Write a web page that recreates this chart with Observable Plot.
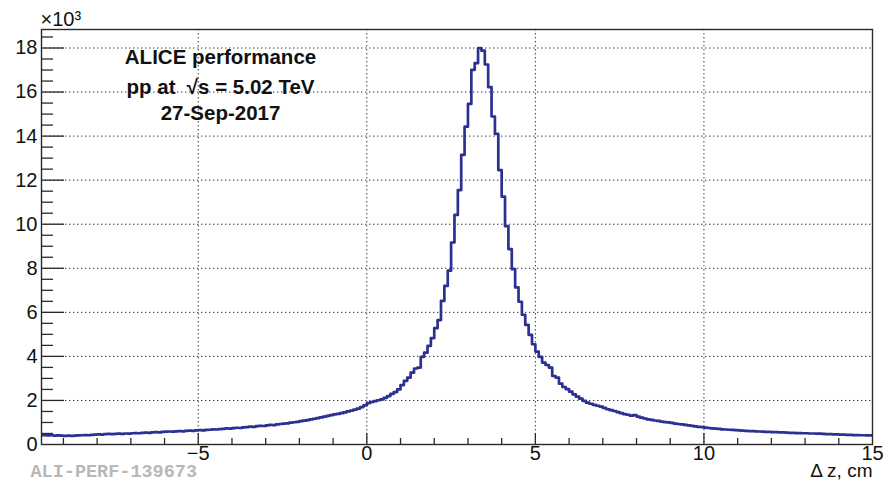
<!DOCTYPE html>
<html><head><meta charset="utf-8">
<script src="https://cdn.jsdelivr.net/npm/d3@7"></script>
<script src="https://cdn.jsdelivr.net/npm/@observablehq/plot@0.6"></script>
<style>html,body{margin:0;padding:0;background:#fff;} svg{display:block}</style>
</head><body><div id="chart"></div>
<script>
// Histogram: bins of 0.1 cm starting at -9.7 cm; counts in units of 10^3
const firstEdge = -9.7;
const binWidth = 0.1;
const countsK = [
  0.42,0.42,0.41,0.42,0.40,0.41,0.40,0.39,0.40,0.39,
  0.40,0.41,0.42,0.43,0.42,0.44,0.45,0.46,0.45,0.47,
  0.48,0.47,0.48,0.49,0.48,0.50,0.49,0.51,0.52,0.51,
  0.53,0.54,0.53,0.55,0.56,0.55,0.57,0.58,0.59,0.58,
  0.60,0.61,0.60,0.62,0.63,0.62,0.64,0.65,0.64,0.66,
  0.67,0.69,0.68,0.70,0.71,0.73,0.72,0.74,0.76,0.75,
  0.78,0.79,0.81,0.80,0.83,0.85,0.84,0.87,0.89,0.88,
  0.91,0.93,0.95,0.96,0.99,1.01,1.03,1.06,1.08,1.11,
  1.14,1.17,1.20,1.23,1.27,1.30,1.33,1.37,1.39,1.42,
  1.46,1.50,1.54,1.58,1.63,1.70,1.78,1.88,1.93,1.97,
  2.01,2.05,2.12,2.20,2.30,2.38,2.50,2.70,2.89,3.04,
  3.26,3.45,3.49,3.98,4.17,4.48,4.83,5.28,5.65,6.52,
  7.20,7.89,9.17,10.42,11.55,13.15,14.43,15.46,17.01,17.31,
  18.00,17.88,17.25,16.22,14.89,14.10,12.46,11.25,9.91,8.87,
  7.96,7.13,6.48,5.89,5.43,4.98,4.55,4.22,3.98,3.72,
  3.61,3.49,3.11,3.04,2.76,2.61,2.51,2.40,2.28,2.17,
  2.08,1.98,1.90,1.85,1.80,1.76,1.72,1.66,1.60,1.56,
  1.52,1.47,1.42,1.38,1.35,1.31,1.33,1.27,1.22,1.18,
  1.14,1.12,1.09,1.07,1.04,1.02,1.00,0.98,0.95,0.93,
  0.91,0.89,0.87,0.85,0.82,0.80,0.79,0.77,0.75,0.73,
  0.72,0.71,0.69,0.68,0.67,0.66,0.65,0.64,0.63,0.62,
  0.61,0.61,0.60,0.59,0.58,0.57,0.57,0.56,0.56,0.55,
  0.55,0.54,0.53,0.53,0.52,0.52,0.51,0.51,0.50,0.50,
  0.49,0.49,0.48,0.47,0.47,0.46,0.46,0.45,0.45,0.44,
  0.44,0.43,0.43,0.42,0.42,0.41,0.41
];
const xMajorTicks = [-5, 0, 5, 10, 15];
const xTickLabels = ["\u22125", "0", "5", "10", "15"];
const xMinorTicks = [-9,-8,-7,-6,-4,-3,-2,-1,1,2,3,4,6,7,8,9,11,12,13,14];
const yMajorTicks = [0, 2, 4, 6, 8, 10, 12, 14, 16, 18];
const yMinorTicks = [0.5,1,1.5,2.5,3,3.5,4.5,5,5.5,6.5,7,7.5,8.5,9,9.5,10.5,11,11.5,12.5,13,13.5,14.5,15,15.5,16.5,17,17.5,18.5];
const infoLines = ["ALICE performance", "pp at  \u221As = 5.02 TeV", "27-Sep-2017"];
const xTitle = "\u0394 z, cm";
const yMultiplier = "\u00D710\u00B3";
const figureId = "ALI-PERF-139673";

const W = 888, H = 482;
const mL = 41, mR = 16, mT = 29, mB = 38;
const frameW = W - mL - mR, frameH = H - mT - mB;

const points = countsK.map((c, i) => ({x: Math.round((firstEdge + i * binWidth) * 10) / 10, y: c}));
points.push({x: Math.round((firstEdge + countsK.length * binWidth) * 10) / 10, y: countsK[countsK.length - 1]});

const gridStyle = {stroke: "#333", strokeWidth: 1, strokeDasharray: "1.4,2.6"};
const axisColor = "#2a2a2a";
const labelFont = 20;

const chart = Plot.plot({
  width: W, height: H,
  marginLeft: mL, marginRight: mR, marginTop: mT, marginBottom: mB,
  style: {fontFamily: "'Liberation Sans', Arial, Helvetica, sans-serif", fontSize: "20px", background: "#fff", color: "#111"},
  x: {domain: [-9.65, 15], axis: null},
  y: {domain: [0, 18.84], axis: null},
  marks: [
    Plot.ruleX(xMajorTicks.filter(v => v > -9.65 && v < 15), {x: d => d, ...gridStyle}),
    Plot.ruleY(yMajorTicks.filter(v => v > 0), {y: d => d, ...gridStyle}),
    Plot.tickX(xMajorTicks.filter(v => v < 15), {x: d => d, insetTop: frameH - 11, stroke: axisColor, strokeWidth: 1.3}),
    Plot.tickX(xMinorTicks, {x: d => d, insetTop: frameH - 6, stroke: axisColor, strokeWidth: 1.3}),
    Plot.tickY(yMajorTicks.filter(v => v > 0), {y: d => d, insetRight: frameW - 23, stroke: axisColor, strokeWidth: 1.3}),
    Plot.tickY(yMinorTicks, {y: d => d, insetRight: frameW - 12, stroke: axisColor, strokeWidth: 1.3}),
    Plot.line(points, {x: "x", y: "y", curve: "step-after", stroke: "#2c3191", strokeWidth: 2.7, clip: true}),
    Plot.frame({stroke: axisColor, strokeWidth: 1.4}),
    Plot.text(xMajorTicks, {x: d => d, text: (d, i) => xTickLabels[i], frameAnchor: "bottom", dy: 15, lineAnchor: "bottom", fontSize: labelFont, fill: "#111"}),
    Plot.text(yMajorTicks, {y: d => d, text: d => String(d), frameAnchor: "left", dx: -4, textAnchor: "end", lineAnchor: "middle", fontSize: labelFont, fill: "#111"}),
    Plot.text([yMultiplier], {text: d => d, frameAnchor: "top-left", dx: -1, dy: -4, textAnchor: "start", lineAnchor: "bottom", fontSize: labelFont, fill: "#111"}),
    Plot.text([xTitle], {text: d => d, frameAnchor: "bottom-right", dy: 32, textAnchor: "end", lineAnchor: "bottom", fontSize: 19, fill: "#111"}),
    Plot.text([infoLines[0]], {text: d => d, frameAnchor: "top-left", dx: 179, dy: 34.5, textAnchor: "middle", lineAnchor: "bottom", fontSize: 20.5, fontWeight: "bold", fill: "#111"}),
    Plot.text([infoLines[1]], {text: d => d, frameAnchor: "top-left", dx: 179, dy: 64, textAnchor: "middle", lineAnchor: "bottom", fontSize: 20.5, fontWeight: "bold", fill: "#111"}),
    Plot.text([infoLines[2]], {text: d => d, frameAnchor: "top-left", dx: 179, dy: 90, textAnchor: "middle", lineAnchor: "bottom", fontSize: 20.5, fontWeight: "bold", fill: "#111"}),
    Plot.text([figureId], {text: d => d, frameAnchor: "bottom-left", dx: -11, dy: 32.5, textAnchor: "start", lineAnchor: "bottom", fontSize: 18.5, fontWeight: "bold", fontFamily: "'Liberation Mono', 'DejaVu Sans Mono', monospace", fill: "#b8b8b8"})
  ]
});
document.getElementById("chart").appendChild(chart);
</script>
</body></html>
